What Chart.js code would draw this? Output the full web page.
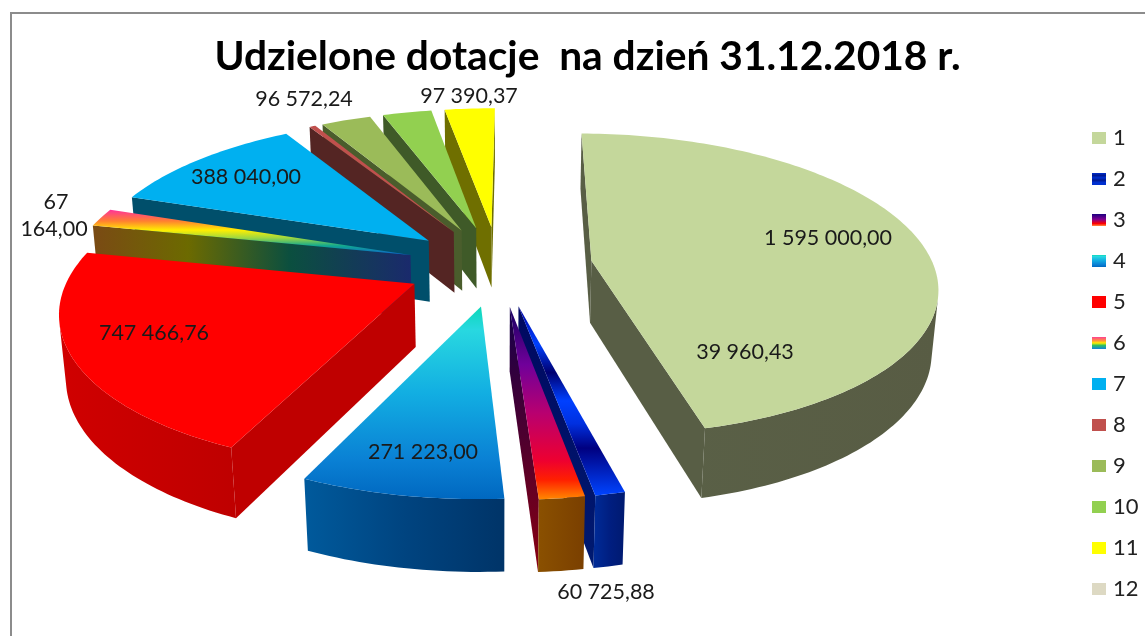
<!DOCTYPE html>
<html><head><meta charset="utf-8">
<style>
html,body{margin:0;padding:0;background:#fff}
#wrap{position:relative;width:1145px;height:636px;overflow:hidden}
#frame{position:absolute;left:10px;top:12px;right:-5px;bottom:-5px;border:2px solid #8c8c8c;pointer-events:none}
canvas{position:absolute;left:0;top:0}
</style>
<script src="https://cdn.jsdelivr.net/npm/chart.js@4/dist/chart.umd.min.js"></script>
</head><body><div id="wrap"><canvas id="c" width="1145" height="636"></canvas><div id="frame"></div></div>
<script>
const titleText = 'Udzielone dotacje  na dzień 31.12.2018 r.';
const categories = ['1','2','3','4','5','6','7','8','9','10','11','12'];
const values = [1595000.00, 39960.43, 60725.88, 271223.00, 747466.76, 67164.00, 388040.00, 12000, 96572.24, 95000, 97390.37, 0];
const showLabel = [true,true,true,true,true,true,true,false,true,false,true,false];
const explode = [27.5,27,27,27,27,27,27,27,27,27,27,27];
const legendColors = ['#C4D79B','#0033CC','#7030A0','#0FA5E0','#FF0000','#FFD000','#00B0F0','#C0504D','#9BBB59','#92D050','#FFFF00','#DDD9C3'];

// label anchor points (centre of text), text only
const labelPos = [[828,238],[745,352],[606,592],[423,452],[154,333],[54,216],[246,177],null,[304,99],null,[469,96],null];
const labelWrap = [false,false,false,false,false,true,false,false,false,false,false,false];

const topStyle = [
 null,
 [[0,'#0000a0'],[.2,'#0040ff'],[.35,'#000070'],[.5,'#0040ff'],[.62,'#0030e0'],[.75,'#000080'],[1,'#0044ff']],
 [[0,'#150060'],[.3,'#70009a'],[.55,'#b80070'],[.8,'#ee0030'],[.9,'#ff2000'],[1,'#ff8800']],
 [[0,'#0cd8b8'],[.12,'#28d8e0'],[.45,'#12aee2'],[.8,'#0a80d4'],[1,'#0068c0']],
 null,
 [[0,'#ff3399'],[.25,'#ff8030'],[.45,'#ffee00'],[.62,'#a0d840'],[.8,'#10a890'],[1,'#1060d0']],
 null,null,null,null,null,null
];
const legendStyle = topStyle.slice();
legendStyle[1] = [[0,'#0030d0'],[.2,'#001890'],[.4,'#0030d0'],[.6,'#001890'],[.8,'#0030d0'],[1,'#0030d0']];
legendStyle[2] = [[0,'#1c0080'],[.45,'#800090'],[.8,'#ff0000'],[1,'#ff9040']];
legendStyle[5] = [[0,'#ff4090'],[.3,'#ff9040'],[.5,'#ffee00'],[.7,'#30c060'],[1,'#1080e0']];
const outerStyle = [
 [[0,'#64704f'],[.08,'#5a6147'],[1,'#585c44']],
 [[0,'#002a96'],[.5,'#001e80'],[1,'#001a70']],
 [[0,'#8a5000'],[1,'#7a3f00']],
 [[0,'#005a9c'],[.5,'#004480'],[1,'#003468']],
 [[0,'#d00000'],[1,'#bf0000']],
 [[0,'#7a4a14'],[.3,'#6c6a00'],[.62,'#0b4f3f'],[1,'#1a2a6c']],
 [[0,'#004f6b'],[1,'#004f6b']],
 [[0,'#542523'],[1,'#542523']],
 [[0,'#4a5d2c'],[1,'#4a5d2c']],
 [[0,'#3f5a28'],[1,'#3f5a28']],
 [[0,'#6f6f00'],[1,'#6f6f00']],
 [[0,'#6f6c5f'],[1,'#6f6c5f']]
];
const radialStyle = [
 ['#585e45','#585e45'],
 ['#000860','#001a70'],
 ['#14004c','#8a0010'],
 ['#00508c','#003468'],
 ['#bf0000','#bf0000'],
 null,
 ['#004f6b','#004f6b'],
 ['#542523','#542523'],
 ['#4a5d2c','#4a5d2c'],
 ['#3f5a28','#3f5a28'],
 ['#6f6f00','#6f6f00'],
 ['#6f6c5f','#6f6c5f']
];

const view = {cx:498.5, cy:265.5, scaleX:342, tilt:25.7*Math.PI/180, dist:5.8, depth:0.205};

function project(x,y,z){
  const s=Math.sin(view.tilt), c=Math.cos(view.tilt), f=view.scaleX*view.dist;
  const yc=y*s-z*c, zc=view.dist-(y*c+z*s);
  return [view.cx+f*x/zc, view.cy+f*yc/zc];
}
function fmt(v){
  const p=v.toFixed(2).split('.');
  return p[0].replace(/\B(?=(\d{3})+(?!\d))/g,' ')+','+p[1];
}
function polyFill(ctx,pts,fill){
  ctx.beginPath();pts.forEach((p,i)=>i?ctx.lineTo(p[0],p[1]):ctx.moveTo(p[0],p[1]));ctx.closePath();
  ctx.fillStyle=fill;ctx.fill();
}
function area(p){let a=0;for(let i=0;i<p.length;i++){const q=p[(i+1)%p.length];a+=p[i][0]*q[1]-q[0]*p[i][1];}return a/2;}
function grad(ctx,x0,y0,x1,y1,stops){const g=ctx.createLinearGradient(x0,y0,x1,y1);stops.forEach(s=>g.addColorStop(s[0],s[1]));return g;}

const pie3d = {
  id:'pie3d',
  beforeDatasetDraw(chart,args){
    const ctx=chart.ctx, arcs=chart.getDatasetMeta(args.index).data;
    const order=arcs.map((el,i)=>i).filter(i=>arcs[i].circumference>0)
      .sort((a,b)=>Math.sin((arcs[a].startAngle+arcs[a].endAngle)/2)-Math.sin((arcs[b].startAngle+arcs[b].endAngle)/2));
    const h=-view.depth;
    order.forEach(i=>{
      const el=arcs[i], a0=el.startAngle, a1=el.endAngle, mid=(a0+a1)/2, o=el.options.offset/100;
      const ox=o*Math.cos(mid), oy=o*Math.sin(mid);
      const n=Math.max(3,Math.ceil((a1-a0)/0.02));
      const rim=[];for(let k=0;k<=n;k++){const t=a0+(a1-a0)*k/n;rim.push([ox+Math.cos(t),oy+Math.sin(t)]);}
      const T=q=>project(q[0],q[1],0),B=q=>project(q[0],q[1],h);
      const apex=[ox,oy];
      const topPts=[T(apex),...rim.map(T)];
      const allX=[...rim.map(T),T(apex)].map(p=>p[0]);
      const ys=[...rim.map(T),...rim.map(B),T(apex),B(apex)].map(p=>p[1]);
      const minX=Math.min(...allX),maxX=Math.max(...allX),minY=Math.min(...ys),maxY=Math.max(...ys);
      // radial walls
      [[apex,rim[0]],[rim[n],apex]].forEach(e=>{
        const q=[T(e[0]),T(e[1]),B(e[1]),B(e[0])];
        if(area(q)<0){
          const st=radialStyle[i];
          const fill=st?grad(ctx,0,minY,0,maxY,[[0,st[0]],[1,st[1]]]):grad(ctx,minX,0,maxX,0,outerStyle[i]);
          polyFill(ctx,q,fill);
        }
      });
      // outer wall: contiguous runs of camera-facing segments
      const g=grad(ctx,Math.min(...rim.map(T).map(p=>p[0])),0,Math.max(...rim.map(T).map(p=>p[0])),0,outerStyle[i]);
      let run=[];
      const flush=()=>{
        if(run.length){
          const a=run.concat([run[run.length-1]+1]);
          polyFill(ctx,[...a.map(k=>T(rim[k])),...a.slice().reverse().map(k=>B(rim[k]))],g);
        }
        run=[];
      };
      for(let k=0;k<n;k++){
        const q=[T(rim[k]),T(rim[k+1]),B(rim[k+1]),B(rim[k])];
        if(area(q)<0) run.push(k); else flush();
      }
      flush();
      // top face
      const tys=topPts.map(p=>p[1]);
      const fill=topStyle[i]?grad(ctx,0,Math.min(...tys),0,Math.max(...tys),topStyle[i]):legendColors[i];
      polyFill(ctx,topPts,fill);
    });
    return false;
  },
  afterDatasetsDraw(chart){
    const ctx=chart.ctx;
    ctx.save();
    ctx.font='21.5px Lato';ctx.fillStyle='#1a1a1a';ctx.textAlign='center';ctx.textBaseline='middle';
    values.forEach((v,i)=>{
      if(!showLabel[i]||!labelPos[i])return;
      const t=fmt(v),p=labelPos[i];
      if(labelWrap[i]){
        const sp=t.split(' ');
        ctx.fillText(sp[0],p[0]+2,p[1]-14);ctx.fillText(sp[1],p[0],p[1]+13);
      }else ctx.fillText(t,p[0],p[1]);
    });
    ctx.restore();
  },
  afterUpdate(chart){
    const lg=chart.legend, box0=lg.legendHitBoxes[0];
    const dx=1092-box0.left, dy=127-box0.top;
    lg.left+=dx;lg.right+=dx;lg.top+=dy;lg.bottom+=dy;
    lg.legendHitBoxes.forEach(b=>{b.left+=dx;b.top+=dy;});
  },
  afterDraw(chart){
    const ctx=chart.ctx;
    chart.legend.legendHitBoxes.forEach((b,i)=>{
      const y=b.top+(b.height-12)/2;
      ctx.fillStyle=legendStyle[i]?grad(ctx,0,y,0,y+12,legendStyle[i]):legendColors[i];
      ctx.fillRect(b.left,y,14,12);
    });
  }
};

new Chart(document.getElementById('c'),{
  type:'pie',
  data:{labels:categories,datasets:[{data:values,backgroundColor:legendColors,offset:explode,borderWidth:0}]},
  plugins:[pie3d],
  options:{
    responsive:false,animation:false,
    rotation:0.5,
    layout:{padding:{left:30}},
    plugins:{
      title:{display:true,text:titleText,color:'#000',font:{family:'Lato',size:40.7,weight:'bold'},padding:{top:32,bottom:10}},
      legend:{position:'right',align:'start',labels:{boxWidth:10,boxHeight:12,padding:19,color:'#222',font:{family:'Lato',size:22}}},
      tooltip:{enabled:false}
    }
  }
});
</script></body></html>
